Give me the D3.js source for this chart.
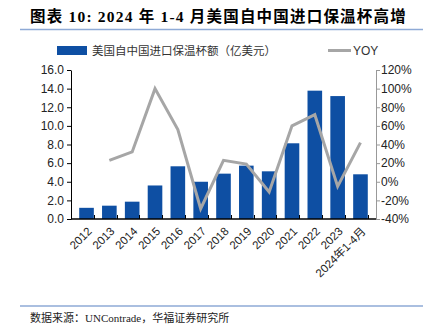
<!DOCTYPE html>
<html>
<head>
<meta charset="utf-8">
<script src="https://cdn.jsdelivr.net/npm/d3@7"></script>
<style>
  body { margin: 0; background: #fff; }
  svg { display: block; }
</style>
</head>
<body>
<div id="chart"></div>
<script>
// chart data
const categories = ["2012", "2013", "2014", "2015", "2016", "2017", "2018", "2019", "2020", "2021", "2022", "2023", "2024年1-4月"];
const importValues = [1.2, 1.43, 1.86, 3.6, 5.66, 4.0, 4.87, 5.73, 5.12, 8.13, 13.78, 13.2, 4.8];
const yoyValues = [null, 23, 32, 100, 56, -29, 23, 19, -11, 60, 72, -5, 42];
const leftTicks = [0, 2, 4, 6, 8, 10, 12, 14, 16];
const rightTicks = [-40, -20, 0, 20, 40, 60, 80, 100, 120];

const width = 434, height = 333;
const margin = { top: 70, right: 58, bottom: 114, left: 71 };
const innerWidth = width - margin.left - margin.right;
const innerHeight = height - margin.top - margin.bottom;

const svg = d3.select("#chart")
    .append("svg")
    .attr("width", width)
    .attr("height", height)
    .style("font-family", "'Liberation Sans', Arial, sans-serif");

// title + rule
svg.append("text")
    .attr("x", 30)
    .attr("y", 22)
    .style("font-family", "'Liberation Serif', 'Noto Sans CJK SC', serif")
    .style("font-weight", "bold")
    .style("font-size", "15.5px")
    .style("letter-spacing", "1.2px")
    .attr("fill", "#000")
    .text("图表 10:  2024 年 1-4 月美国自中国进口保温杯高增");

svg.append("line")
    .attr("x1", 20).attr("x2", 423)
    .attr("y1", 29.5).attr("y2", 29.5)
    .attr("stroke", "#8eaad6")
    .attr("stroke-width", 1.5);

// legend
const legend = svg.append("g").style("font-size", "11.5px");
legend.append("rect")
    .attr("x", 57).attr("y", 46).attr("width", 30).attr("height", 9)
    .attr("fill", "#0e4fa3");
legend.append("text")
    .attr("x", 92).attr("y", 55)
    .style("font-family", "'Noto Sans CJK SC', sans-serif")
    .attr("fill", "#333")
    .text("美国自中国进口保温杯额（亿美元）");
legend.append("line")
    .attr("x1", 328).attr("x2", 351).attr("y1", 50.5).attr("y2", 50.5)
    .attr("stroke", "#a6a6a6").attr("stroke-width", 3);
legend.append("text")
    .attr("x", 353).attr("y", 55)
    .attr("fill", "#333")
    .style("font-size", "12px")
    .text("YOY");

const g = svg.append("g")
    .attr("transform", `translate(${margin.left},${margin.top})`);

const x = d3.scaleBand()
    .domain(categories)
    .range([0, innerWidth])
    .padding(0.36);

const yLeft = d3.scaleLinear().domain([0, 16]).range([innerHeight, 0]);
const yRight = d3.scaleLinear().domain([-40, 120]).range([innerHeight, 0]);

// bars
g.selectAll(".bar")
    .data(categories)
    .enter()
    .append("rect")
    .attr("class", "bar")
    .attr("x", d => x(d))
    .attr("y", (d, i) => yLeft(importValues[i]))
    .attr("width", x.bandwidth())
    .attr("height", (d, i) => innerHeight - yLeft(importValues[i]))
    .attr("fill", "#0e4fa3");

// left axis
const leftAxis = g.append("g")
    .call(d3.axisLeft(yLeft).tickValues(leftTicks).tickFormat(d3.format(".1f")).tickSize(4).tickSizeOuter(0));
leftAxis.select(".domain").attr("stroke", "#000");
leftAxis.selectAll("text").style("font-size", "12px").attr("fill", "#222").attr("x", -7);

// right axis
const rightAxis = g.append("g")
    .attr("transform", `translate(${innerWidth},0)`)
    .call(d3.axisRight(yRight).tickValues(rightTicks).tickFormat(d => d + "%").tickSize(4).tickSizeOuter(0));
rightAxis.select(".domain").attr("stroke", "#999");
rightAxis.selectAll(".tick line").attr("stroke", "#999");
rightAxis.selectAll("text").style("font-size", "12px").attr("fill", "#222").attr("x", 5);

// x axis with ticks at category boundaries, pointing up
const step = x.step();
const bottomAxis = g.append("g").attr("transform", `translate(0,${innerHeight})`);
bottomAxis.append("line")
    .attr("x1", 0).attr("x2", innerWidth)
    .attr("stroke", "#000").attr("stroke-width", 1.3);
bottomAxis.selectAll(".btick")
    .data(d3.range(categories.length + 1))
    .enter()
    .append("line")
    .attr("x1", i => Math.round(i * step) + 0.5)
    .attr("x2", i => Math.round(i * step) + 0.5)
    .attr("y1", 0).attr("y2", -4)
    .attr("stroke", "#000");

const labels = svg.append("g");
labels.selectAll(".xlab")
    .data(categories)
    .enter()
    .append("text")
    .attr("transform", d => `translate(${margin.left + x(d) + x.bandwidth() / 2 + 6},${margin.top + innerHeight + 13}) rotate(-45)`)
    .attr("text-anchor", "end")
    .style("font-family", "'Liberation Sans', 'Noto Sans CJK SC', sans-serif")
    .style("font-size", "11.5px")
    .attr("fill", "#222")
    .text(d => d);

// YOY line
const line = d3.line()
    .defined(d => d.value !== null)
    .x(d => x(d.cat) + x.bandwidth() / 2)
    .y(d => yRight(d.value));

g.append("path")
    .datum(categories.map((c, i) => ({ cat: c, value: yoyValues[i] })))
    .attr("fill", "none")
    .attr("stroke", "#a6a6a6")
    .attr("stroke-width", 3)
    .attr("d", line);

// footer
svg.append("line")
    .attr("x1", 20).attr("x2", 423)
    .attr("y1", 306).attr("y2", 306)
    .attr("stroke", "#8eaad6")
    .attr("stroke-width", 1.5);

svg.append("text")
    .attr("x", 30).attr("y", 322)
    .style("font-family", "'Liberation Serif', 'Noto Sans CJK SC', serif")
    .style("font-size", "11px")
    .attr("fill", "#222")
    .text("数据来源：UNContrade，华福证券研究所");
</script>
</body>
</html>
